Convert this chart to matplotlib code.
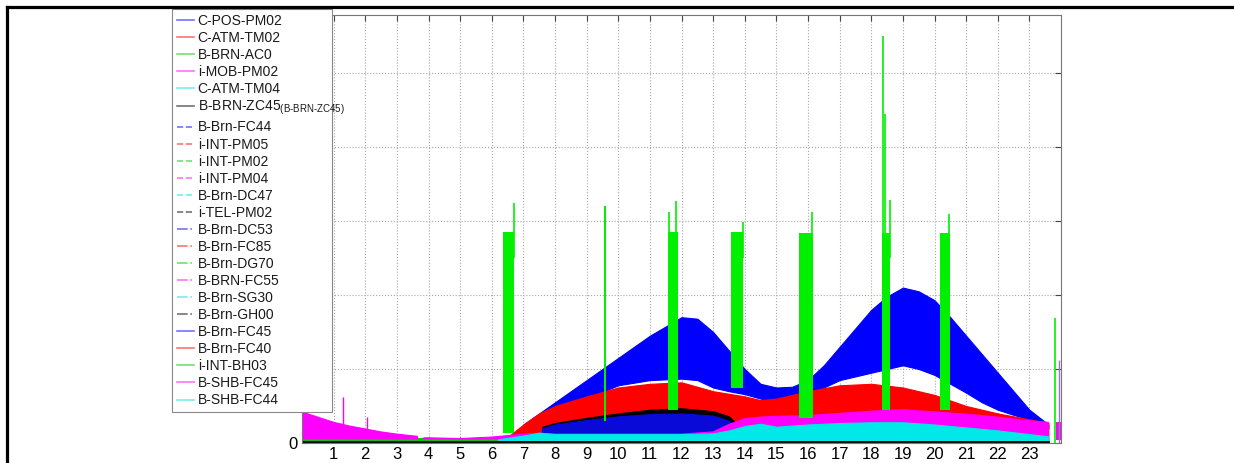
import numpy as np
import matplotlib.pyplot as plt
from matplotlib.lines import Line2D

plt.rcParams['font.family'] = ['Liberation Sans', 'DejaVu Sans']
plt.rcParams['mathtext.fontset'] = 'custom'
plt.rcParams['mathtext.rm'] = 'Liberation Sans'

# legend entries (MATLAB colour order, line style changes every 6 series)
legend_labels = [
    'C-POS-PM02', 'C-ATM-TM02', 'B-BRN-AC0', 'i-MOB-PM02', 'C-ATM-TM04',
    r'B-BRN-ZC45$_{\text{(B-BRN-ZC45)}}$',
    'B-Brn-FC44', 'i-INT-PM05', 'i-INT-PM02', 'i-INT-PM04', 'B-Brn-DC47', 'i-TEL-PM02',
    'B-Brn-DC53', 'B-Brn-FC85', 'B-Brn-DG70', 'B-BRN-FC55', 'B-Brn-SG30', 'B-Brn-GH00',
    'B-Brn-FC45', 'B-Brn-FC40', 'i-INT-BH03', 'B-SHB-FC45', 'B-SHB-FC44',
]
color_cycle = ['#0000ff', '#ff0000', '#00c800', '#ff00ff', '#00e0e0', '#000000']
style_cycle = ['-'] * 6 + ['--'] * 6 + ['-.'] * 6 + ['-'] * 5

hour_ticks = list(range(1, 24))

# big two-hump series (blue)
blue_h = [7, 8, 9, 10, 11, 12, 12.5, 13, 13.5, 14, 14.5, 15, 15.5, 16, 16.5, 17,
          17.5, 18, 18.5, 19, 19.5, 20, 20.5, 21, 21.5, 22, 22.5, 23, 23.6]
blue_hi = [0.25, 0.55, 0.85, 1.15, 1.45, 1.7, 1.68, 1.5, 1.25, 1.0, 0.8, 0.75, 0.76, 0.85, 1.05, 1.3,
           1.55, 1.8, 1.98, 2.1, 2.05, 1.93, 1.7, 1.45, 1.2, 0.95, 0.7, 0.45, 0.25]
blue_lo = [0.15, 0.45, 0.6, 0.78, 0.85, 0.87, 0.85, 0.75, 0.7, 0.66, 0.6, 0.55, 0.55, 0.65, 0.75, 0.85,
           0.9, 0.95, 1.0, 1.05, 1.0, 0.92, 0.8, 0.68, 0.55, 0.45, 0.38, 0.32, 0.2]

# red series
red_h = [6.5, 7, 7.5, 8, 9, 10, 11, 12, 13, 14, 14.5, 15, 16, 17, 18, 19, 20, 21, 22, 23, 23.6]
red_hi = [0.08, 0.25, 0.4, 0.5, 0.63, 0.75, 0.8, 0.82, 0.7, 0.63, 0.58, 0.6, 0.7, 0.78, 0.8, 0.75,
          0.65, 0.5, 0.4, 0.32, 0.27]

# black and dark blue series (day time only)
black_h = [7.6, 8, 9, 10, 11, 12, 13, 13.5, 13.9]
black_hi = [0.22, 0.27, 0.34, 0.4, 0.45, 0.47, 0.43, 0.36, 0.2]
navy_h = [7.56, 7.6, 8, 9, 10, 11, 12, 13, 13.5, 13.9]
navy_hi = [0.12, 0.2, 0.25, 0.31, 0.36, 0.39, 0.4, 0.37, 0.3, 0.12]

# magenta series (nan = gap in the data)
mag_h = [0, 0.5, 1, 1.5, 2, 2.5, 3, 3.65, 3.75, 3.85, 4, 5, 6, 6.5, 7, 7.5, 8, 9, 10, 11, 12,
         13, 13.5, 14, 14.5, 15, 16, 17, 18, 19, 20, 21, 22, 23, 23.6, 23.7, 23.85, 24]
mag_hi = [0.42, 0.35, 0.28, 0.23, 0.19, 0.15, 0.12, 0.09, np.nan, 0.07, 0.07, 0.06, 0.08, 0.1,
          0.12, 0.13, 0.12, 0.12, 0.12, 0.12, 0.12, 0.15, 0.25, 0.33, 0.35, 0.36, 0.37, 0.4,
          0.43, 0.45, 0.42, 0.39, 0.35, 0.3, 0.28, np.nan, 0.28, 0.28]
mag_spike_h = [1.31, 2.04]
mag_spike_top = [0.62, 0.35]

# cyan series
cyan_h = [6.2, 6.5, 7, 7.5, 8, 10, 12, 13, 13.5, 14, 14.5, 15, 16, 17, 18, 19, 20, 21, 22, 23, 23.6]
cyan_hi = [0.05, 0.07, 0.1, 0.14, 0.12, 0.12, 0.12, 0.13, 0.17, 0.23, 0.26, 0.22, 0.25, 0.27,
           0.28, 0.28, 0.25, 0.21, 0.17, 0.12, 0.09]

# green bursts
blk_start = [6.36, 9.56, 11.57, 13.57, 15.7, 18.35, 20.18]
blk_end = [6.70, 9.62, 11.90, 13.95, 16.17, 18.6, 20.5]
blk_top = [2.85, 3.2, 2.85, 2.85, 2.84, 2.84, 2.84]
blk_bottom = [0.13, 0.3, 0.45, 0.74, 0.34, 0.45, 0.45]
spike_h = [6.69, 11.6, 11.83, 13.93, 16.14, 18.37, 18.42, 18.58, 20.47, 23.8]
spike_lo = [2.5, 2.5, 2.5, 2.5, 2.5, 2.5, 2.5, 2.5, 2.5, 0.0]
spike_top = [3.24, 3.12, 3.27, 2.98, 3.12, 5.5, 4.45, 3.28, 3.1, 1.69]


fig = plt.figure(figsize=(12.34, 4.63), dpi=100)
ax = fig.add_axes([302 / 1234, 1 - 443 / 463, 759 / 1234, 428 / 463])

ax.fill_between(blue_h, blue_lo, blue_hi, color='#0000ff', lw=0.8)
ax.fill_between(red_h, 0.03, red_hi, color='#ff0000', lw=0.8)
ax.fill_between(black_h, 0.05, black_hi, color='#000000', lw=0.8)
ax.fill_between(navy_h, 0.04, navy_hi, color='#0a0ad8', lw=0.8)
ax.fill_between([0, 23.6], 0.01, 0.07, color='#00c800', lw=0)
ax.fill_between(mag_h, 0.06, mag_hi, color='#ff00ff', lw=0.8)
ax.vlines(mag_spike_h, 0.05, mag_spike_top, colors='#ff00ff', lw=1)
ax.fill_between(cyan_h, 0.04, cyan_hi, color='#00e8e8', lw=0.8)
ax.plot([0, 23.6], [0.012, 0.012], color='k', lw=2)
ax.bar(blk_start, np.subtract(blk_top, blk_bottom), width=np.subtract(blk_end, blk_start),
       bottom=blk_bottom, align='edge', color='#00f000', lw=0)
ax.vlines(spike_h, spike_lo, spike_top, colors='#00f000', lw=1.2)
ax.vlines([23.95], 0, 1.12, colors='#a070c0', lw=1)

ax.set_xlim(0, 24)
ax.set_ylim(0, 428 / 74)
ax.set_xticks(hour_ticks)
ax.set_yticks(range(6))
ax.set_yticklabels(['0', '', '', '', '', ''])
ax.grid(True, ls=':', color='#a8a8a8', lw=0.8)
ax.set_axisbelow(True)
ax.tick_params(direction='in', top=True, right=True, length=4, color='#444444',
               labelsize=12, pad=3)
for s in ax.spines.values():
    s.set_color('#777777')

handles = [Line2D([], [], color=color_cycle[i % 6], ls=style_cycle[i], lw=1.2, alpha=0.55)
           for i in range(len(legend_labels))]
leg = ax.legend(handles, legend_labels, loc='upper left',
                bbox_to_anchor=(172 / 1234, 0.1, 160 / 1234, 1 - 9 / 463 - 0.1),
                bbox_transform=fig.transFigure, mode='expand', fontsize=10,
                handlelength=1.2, handletextpad=0.3, labelspacing=0.22,
                borderpad=0.35, borderaxespad=0, fancybox=False, framealpha=1)
leg.get_frame().set_edgecolor('#888888')
leg.get_frame().set_linewidth(0.8)
for t in leg.get_texts():
    t.set_color('#1a1a1a')

# thick outer frame (top and left)
fig.add_artist(Line2D([7 / 1234, 1], [1 - 7 / 463] * 2, transform=fig.transFigure, color='k', lw=2.3))
fig.add_artist(Line2D([7 / 1234] * 2, [0, 1 - 7 / 463], transform=fig.transFigure, color='k', lw=2.3))

fig.savefig('out.png', dpi=100)
